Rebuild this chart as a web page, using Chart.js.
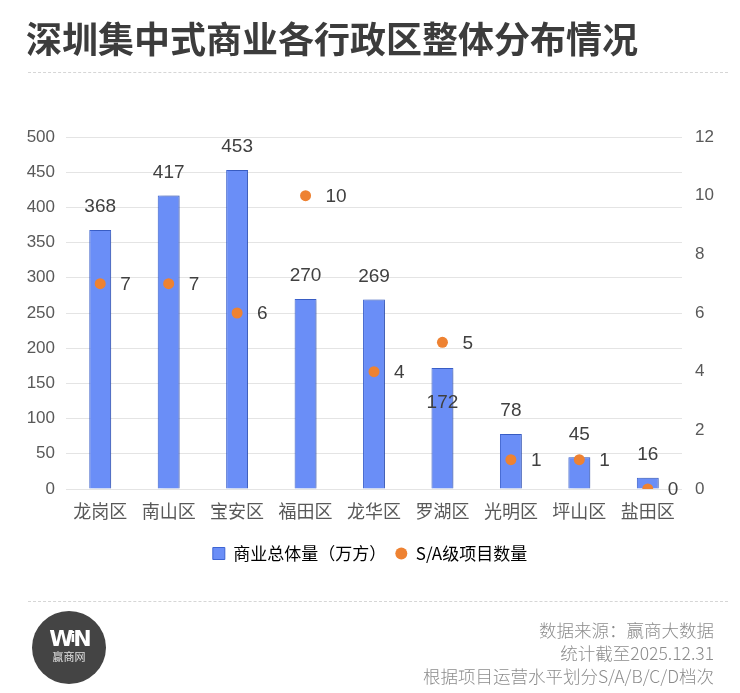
<!DOCTYPE html>
<html>
<head>
<meta charset="utf-8">
<script src="https://cdn.jsdelivr.net/npm/chart.js@4.4.1/dist/chart.umd.min.js"></script>
<style>
  html, body { margin: 0; padding: 0; background: #fff; }
  #wrap { position: relative; width: 740px; height: 693px; overflow: hidden; }
  #chart { position: absolute; left: 0; top: 0; }
  .title {
    position: absolute; left: 26px; top: 14px;
    font: bold 36px "Noto Sans CJK SC", sans-serif; color: #3c3c3c;
    white-space: nowrap; line-height: 46px;
  }
  .dash { position: absolute; left: 28px; width: 700px; border-top: 1px dashed #d6d6d6; }
  .logo {
    position: absolute; left: 32px; top: 611px; width: 74px; height: 73px;
    border-radius: 50%; background: #444; color: #fff; text-align: center;
  }
  .logo .w { position: absolute; left: 0; right: 0; top: 14px; font: 900 22px "DejaVu Sans", sans-serif; letter-spacing: -3px; line-height: 24px; }
  .logo .w i { font-style: normal; font-size: 14px; color: #fff; vertical-align: 4px; letter-spacing: -2px; }
  .logo .n { position: absolute; left: 0; right: 0; top: 38px; font: 11px "Noto Sans CJK SC", sans-serif; color: #e0e0e0; line-height: 14px; }
  .source {
    position: absolute; right: 26px; top: 618px; text-align: right;
    font: 300 17.5px "Noto Sans CJK SC", sans-serif; color: #8c8c8c; line-height: 23px;
  }
</style>
</head>
<body>
<div id="wrap">
  <canvas id="chart" width="740" height="693"></canvas>
  <div class="title">深圳集中式商业各行政区整体分布情况</div>
  <div class="dash" style="top:72px"></div>
  <div class="dash" style="top:601px"></div>
  <div class="logo"><div class="w">W<i>i</i>N</div><div class="n">赢商网</div></div>
  <div class="source">数据来源：赢商大数据<br>统计截至2025.12.31<br>根据项目运营水平划分S/A/B/C/D档次</div>
</div>
<script>
// 各行政区
const districts = ['龙岗区', '南山区', '宝安区', '福田区', '龙华区', '罗湖区', '光明区', '坪山区', '盐田区'];
// 商业总体量（万方）
const totalVolume = [368, 417, 453, 270, 269, 172, 78, 45, 16];
// S/A级项目数量
const saProjects = [7, 7, 6, 10, 4, 5, 1, 1, 0];
// 坐标轴刻度
const leftTicks = [0, 50, 100, 150, 200, 250, 300, 350, 400, 450, 500];
const rightTicks = [0, 2, 4, 6, 8, 10, 12];

const barColor = '#6a8ef7';
const barBorder = '#3d64d3';
const dotColor = '#ee8232';

Chart.defaults.font.family = '"Liberation Sans", "Noto Sans CJK SC", sans-serif';
Chart.defaults.color = '#595959';

// 柱子阴影
const barShadow = {
    id: 'barShadow',
    beforeDatasetDraw(chart, args) {
        if (args.index !== 0) return;
        const ctx = chart.ctx;
        ctx.save();
        ctx.shadowColor = 'rgba(0,0,0,0.22)';
        ctx.shadowBlur = 5;
        ctx.shadowOffsetX = 2;
        ctx.shadowOffsetY = 0;
    },
    afterDatasetDraw(chart, args) {
        if (args.index !== 0) return;
        chart.ctx.restore();
    }
};

// 数据标签
const valueLabels = {
    id: 'valueLabels',
    afterDatasetsDraw(chart) {
        const ctx = chart.ctx;
        const bars = chart.getDatasetMeta(0).data;
        const dots = chart.getDatasetMeta(1).data;
        ctx.save();
        ctx.font = '19px "Liberation Sans", sans-serif';
        ctx.fillStyle = '#404040';
        ctx.textBaseline = 'middle';
        bars.forEach((bar, i) => {
            const text = String(totalVolume[i]);
            const w = ctx.measureText(text).width;
            let y = bar.y - 23;
            const dot = dots[i];
            // 与散点重叠时放到柱内
            if (Math.abs(dot.y - y) < 17 && Math.abs(dot.x - bar.x) < w / 2 + 6) {
                y = bar.y + 35;
            }
            ctx.textAlign = 'center';
            ctx.fillText(text, bar.x, y);
        });
        dots.forEach((dot, i) => {
            ctx.textAlign = 'left';
            ctx.fillText(String(saProjects[i]), dot.x + 20, dot.y + 1);
        });
        ctx.restore();
    }
};

new Chart(document.getElementById('chart'), {
    data: {
        labels: districts,
        datasets: [{
            type: 'bar',
            label: '商业总体量（万方）',
            data: totalVolume,
            yAxisID: 'y',
            backgroundColor: barColor,
            borderColor: barBorder,
            borderWidth: 1,
            categoryPercentage: 0.8,
            barPercentage: 0.4,
            order: 2
        }, {
            type: 'line',
            label: 'S/A级项目数量',
            data: saProjects,
            yAxisID: 'y1',
            showLine: false,
            pointRadius: 5.5,
            pointBackgroundColor: dotColor,
            pointBorderColor: dotColor,
            pointBorderWidth: 0,
            order: 1
        }]
    },
    options: {
        responsive: false,
        animation: false,
        layout: { padding: { top: 137, bottom: 121, left: 0, right: 0 } },
        plugins: {
            tooltip: { enabled: false },
            legend: {
                position: 'bottom',
                labels: {
                    font: { size: 17, family: '"Noto Sans CJK SC", sans-serif' },
                    color: '#595959',
                    boxWidth: 12,
                    boxHeight: 12,
                    padding: 9,
                    useBorderRadius: true,
                    generateLabels(chart) {
                        return chart.data.datasets.map((ds, i) => ({
                            text: ds.label,
                            fillStyle: i === 0 ? barColor : dotColor,
                            strokeStyle: i === 0 ? barBorder : dotColor,
                            lineWidth: i === 0 ? 1 : 0,
                            borderRadius: i === 0 ? 0 : 6,
                            datasetIndex: i,
                            hidden: false
                        }));
                    }
                }
            }
        },
        scales: {
            x: {
                grid: { display: false },
                border: { display: false },
                ticks: { font: { size: 18, family: '"Noto Sans CJK SC", sans-serif' }, color: '#595959', padding: 3 },
                afterFit(scale) { scale.height = 47; }
            },
            y: {
                position: 'left',
                min: 0,
                max: 500,
                afterBuildTicks(scale) { scale.ticks = leftTicks.map(v => ({ value: v })); },
                grid: { color: '#e4e4e4', drawTicks: false },
                border: { display: false },
                ticks: { font: { size: 17 }, color: '#595959', padding: 11 },
                afterFit(scale) { scale.width = 66; }
            },
            y1: {
                position: 'right',
                min: 0,
                max: 12,
                afterBuildTicks(scale) { scale.ticks = rightTicks.map(v => ({ value: v })); },
                grid: { display: false, drawTicks: false },
                border: { display: false },
                ticks: { font: { size: 17 }, color: '#595959', padding: 13 },
                afterFit(scale) { scale.width = 58; }
            }
        }
    },
    plugins: [barShadow, valueLabels]
});
</script>
</body>
</html>
